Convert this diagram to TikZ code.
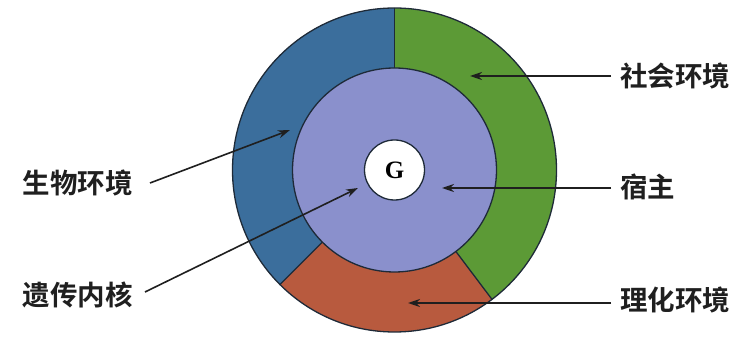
\documentclass[tikz,border=0pt]{standalone}
\usepackage{fontspec}
\setmainfont{Liberation Serif}
\newfontfamily\cjk{Noto Sans CJK SC}[BoldFont=* Bold]
\usetikzlibrary{arrows.meta,calc}
\definecolor{ringblue}{HTML}{3B6E9C}
\definecolor{ringgreen}{HTML}{5C9A36}
\definecolor{ringbrown}{HTML}{B85A3E}
\definecolor{corepurple}{HTML}{8A90CC}
\definecolor{outline}{HTML}{1E2A38}
\tikzset{
  lbl/.style={inner sep=0pt, font=\cjk\bfseries\fontsize{27.5}{29}\selectfont, text=black!88},
  pointer/.style={line width=1.6pt, draw=black!88, -{Stealth[length=12pt,width=8pt]}},
  edge/.style={line width=1.3pt, draw=outline}
}
\begin{document}
\begin{tikzpicture}[x=1pt,y=1pt]
\useasboundingbox (0,0) rectangle (741,337);
\coordinate (C) at (394.5,167);
\def\Ro{162}\def\Ri{102}\def\Rg{30}
% ring sectors
\fill[ringgreen] (C) -- ++(90:\Ro) arc[start angle=90,end angle=-53,radius=\Ro] -- cycle;
\fill[ringbrown] (C) -- ++(-53:\Ro) arc[start angle=-53,end angle=-135,radius=\Ro] -- cycle;
\fill[ringblue] (C) -- ++(-135:\Ro) arc[start angle=-135,end angle=-270,radius=\Ro] -- cycle;
% dividers
\draw[edge] ($(C)+(90:\Ri)$) -- ($(C)+(90:\Ro)$);
\draw[edge] ($(C)+(-53:\Ri)$) -- ($(C)+(-53:\Ro)$);
\draw[edge] ($(C)+(-135:\Ri)$) -- ($(C)+(-135:\Ro)$);
\draw[edge] (C) circle[radius=\Ro];
% core
\node[circle, fill=corepurple, draw=outline, line width=1.3pt, minimum size=2*\Ri pt, inner sep=0pt] (host) at (C) {};
\node[circle, fill=white, draw=outline, line width=1.3pt, minimum size=2*\Rg pt, inner sep=0pt, font=\bfseries\fontsize{25}{27}\selectfont] (gene) at (C) {G};
% labels
\node[lbl, anchor=west] (social) at (620,261) {社会环境};
\node[lbl, anchor=west] (hostl) at (620,150) {宿主};
\node[lbl, anchor=west] (phys) at (620,37) {理化环境};
\node[lbl, anchor=east] (bio) at (133,154) {生物环境};
\node[lbl, anchor=east] (core) at (133,42) {遗传内核};
% tips
\coordinate (tSocial) at (470,261);
\coordinate (tHost) at (442,149);
\coordinate (tPhys) at (408,34);
\coordinate (tBio) at (290,207);
\coordinate (tCore) at (358,149);
\coordinate (sBio) at (150,154);
\coordinate (sCore) at (145,45);
\draw[pointer] ([xshift=-9pt]social.west) -- (tSocial);
\draw[pointer] ([xshift=-9pt,yshift=-1pt]hostl.west) -- (tHost);
\draw[pointer] ([xshift=-9pt,yshift=-3pt]phys.west) -- (tPhys);
\draw[pointer] (sBio) -- (tBio);
\draw[pointer] (sCore) -- (tCore);
\end{tikzpicture}
\end{document}
